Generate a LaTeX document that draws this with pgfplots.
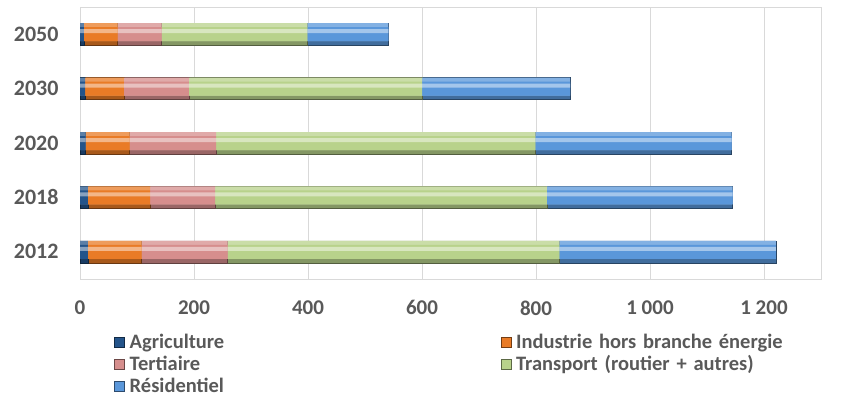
\documentclass[border=0pt]{standalone}
\usepackage{pgfplots}
\pgfplotsset{compat=1.18}
\usepackage{fontspec}
\setmainfont{Carlito}
\definecolor{agri}{HTML}{24548A}
\definecolor{indu}{HTML}{E97B26}
\definecolor{tert}{HTML}{D68E8D}
\definecolor{trans}{HTML}{B8D28B}
\definecolor{resi}{HTML}{5A97DA}
\definecolor{gridc}{HTML}{D9D9D9}
\definecolor{txt}{HTML}{595959}
\pgfplotstableread{
y agri indu tert trans resi
0 14 94 151 582 380
1 14 109 114 582 326
2 10 77 152 560 344
3 9 68 114 409 260
4 7 59 77 256 142
}\datatable
\pgfplotsset{
  common/.style={
    at={(80pt,118pt)}, anchor=south west,
    scale only axis, width=741pt, height=272pt,
    xbar stacked,
    xmin=0, xmax=1300, ymin=-0.5, ymax=4.5,
  }
}
\newcommand{\layer}[4]{%
\begin{axis}[common, hide axis, bar width=#1, bar shift=#2]
\addplot[fill=agri!#3, draw=#4] table[x=agri, y=y] {\datatable};
\addplot[fill=indu!#3, draw=#4] table[x=indu, y=y] {\datatable};
\addplot[fill=tert!#3, draw=#4] table[x=tert, y=y] {\datatable};
\addplot[fill=trans!#3, draw=#4] table[x=trans, y=y] {\datatable};
\addplot[fill=resi!#3, draw=#4] table[x=resi, y=y] {\datatable};
\end{axis}}
\begin{document}
\begin{tikzpicture}[x=1pt,y=1pt]
\useasboundingbox (0,0) rectangle (864,397);
\begin{axis}[
  common, bar width=22pt,
  xtick={0,200,400,600,800,1000,1200},
  xticklabels={0,200,400,600,800,1 000,1 200},
  ytick={0,1,2,3,4},
  yticklabels={2012,2018,2020,2030,2050},
  tick style={draw=none},
  xmajorgrids, major grid style={gridc, line width=1pt},
  axis line style={gridc, line width=1pt},
  xticklabel style={font=\fontsize{21}{24}\selectfont\bfseries, text=txt, yshift=-18pt},
  yticklabel style={font=\fontsize{22}{24}\selectfont\bfseries, text=txt, xshift=-18pt},
  legend style={at={(axis description cs:0.042,-0.185)}, anchor=north west, draw=none, fill=none,
    font=\fontsize{20.5}{22}\selectfont\bfseries, text=txt, legend columns=2,
    nodes={text width=366pt, text height=15pt, text depth=4pt, inner ysep=1.5pt, inner xsep=5pt}, row sep=0pt},
  legend cell align=left,
  legend image code/.code={\path[#1] (0pt,-5pt) rectangle (10pt,5pt);},
]
\addplot[forget plot, fill=agri!72!black, draw=agri!45!black, line width=0.6pt] table[x=agri, y=y] {\datatable};
\addplot[forget plot, fill=indu!72!black, draw=indu!45!black, line width=0.6pt] table[x=indu, y=y] {\datatable};
\addplot[forget plot, fill=tert!72!black, draw=tert!45!black, line width=0.6pt] table[x=tert, y=y] {\datatable};
\addplot[forget plot, fill=trans!72!black, draw=trans!45!black, line width=0.6pt] table[x=trans, y=y] {\datatable};
\addplot[forget plot, fill=resi!72!black, draw=resi!45!black, line width=0.6pt] table[x=resi, y=y] {\datatable};
\addlegendimage{fill=agri, draw=agri!50!black}
\addlegendentry{Agriculture}
\addlegendimage{fill=indu, draw=indu!50!black}
\addlegendentry{Industrie hors branche énergie}
\addlegendimage{fill=tert, draw=tert!50!black}
\addlegendentry{Tertiaire}
\addlegendimage{fill=trans, draw=trans!50!black}
\addlegendentry{Transport (routier + autres)}
\addlegendimage{fill=resi, draw=resi!50!black}
\addlegendentry{Résidentiel}
\node[font=\fontsize{21}{24}\selectfont\bfseries, text=txt] at (axis description cs:1.015,-0.346) {GWh};
\end{axis}
\layer{18pt}{2pt}{75!white}{none}
\layer{14pt}{0pt}{100}{none}
\layer{4pt}{3pt}{55!white}{none}
\end{tikzpicture}
\end{document}
